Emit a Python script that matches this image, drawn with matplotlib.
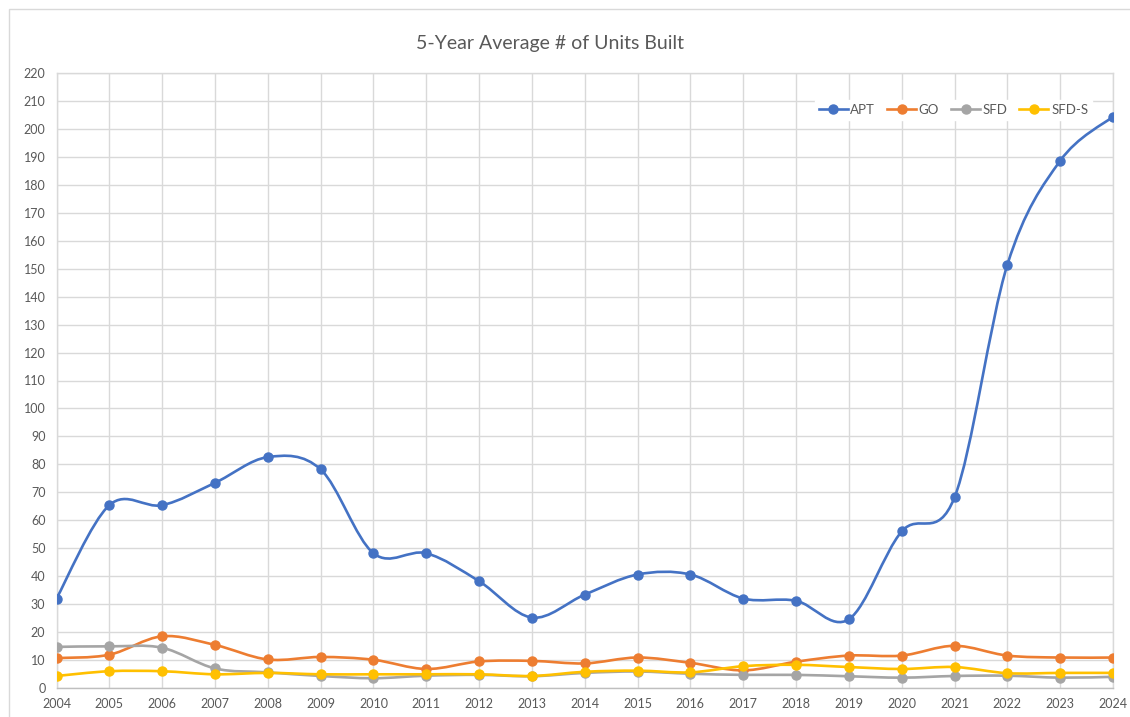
import matplotlib
matplotlib.use("Agg")
import matplotlib.pyplot as plt
from matplotlib.path import Path
from matplotlib.patches import PathPatch, Rectangle
from matplotlib.lines import Line2D
import numpy as np

# chart data
years = list(range(2004, 2025))
apt = [32.0, 65.4, 65.4, 73.4, 82.6, 78.2, 48.2, 48.2, 38.2, 25.2, 33.4,
       40.6, 40.6, 32.0, 31.2, 24.6, 56.0, 68.2, 151.4, 188.6, 204.4]
go = [10.7, 11.9, 18.5, 15.4, 10.2, 11.1, 10.1, 6.8, 9.5, 9.7, 8.8,
      10.9, 9.0, 6.3, 9.4, 11.6, 11.6, 15.1, 11.6, 10.9, 10.9]
sfd = [14.7, 14.9, 14.4, 7.0, 5.6, 4.3, 3.5, 4.4, 4.7, 4.2, 5.4,
       5.9, 5.1, 4.7, 4.7, 4.2, 3.7, 4.3, 4.4, 3.7, 4.0]
sfd_s = [4.3, 6.0, 6.0, 4.9, 5.4, 4.9, 4.9, 4.9, 4.9, 4.3, 5.8,
         6.2, 5.6, 7.8, 8.3, 7.5, 6.8, 7.5, 5.3, 5.4, 5.4]

series = [("APT", apt, "#4472C4"),
          ("GO", go, "#ED7D31"),
          ("SFD", sfd, "#A5A5A5"),
          ("SFD-S", sfd_s, "#FFC000")]

TEXT = "#595959"
GRID = "#D9D9D9"
FONT = "Lato"


def smooth_path(x, y):
    # Excel-like smoothed line: cubic bezier between points (Catmull-Rom style)
    pts = np.column_stack([x, y]).astype(float)
    n = len(pts)
    verts = [pts[0]]
    codes = [Path.MOVETO]
    for i in range(n - 1):
        p0 = pts[i - 1] if i > 0 else pts[i]
        p1 = pts[i]
        p2 = pts[i + 1]
        p3 = pts[i + 2] if i + 2 < n else pts[i + 1]
        c1 = p1 + (p2 - p0) / 6.0
        c2 = p2 - (p3 - p1) / 6.0
        verts += [c1, c2, p2]
        codes += [Path.CURVE4] * 3
    return Path(verts, codes)


W, H = 1130, 717
fig = plt.figure(figsize=(W / 100, H / 100), dpi=100)
fig.patch.set_facecolor("white")

# chart border (cropped on the right/bottom like the reference)
fig.patches.append(Rectangle((9 / W, -0.05), 1.2, 1 - 9 / H + 0.05,
                             transform=fig.transFigure, fill=False,
                             edgecolor=GRID, linewidth=1.0))

ax = fig.add_axes([56.5 / W, 1 - 688 / H, (1113 - 56.5) / W, (688 - 73) / H])

for i, (name, vals, col) in enumerate(series):
    patch = PathPatch(smooth_path(years, vals), facecolor="none", edgecolor=col,
                      linewidth=1.9, capstyle="round", joinstyle="round",
                      zorder=3 + i)
    ax.add_patch(patch)
    ax.plot(years, vals, linestyle="none", marker="o", markersize=6.5,
            color=col, zorder=3 + i)

ax.set_xlim(2004, 2024)
ax.set_ylim(0, 220)
ax.set_xticks(years)
ax.set_yticks(range(0, 221, 10))
ax.grid(True, color=GRID, linewidth=1.0, zorder=0)
ax.set_axisbelow(True)
for side in ["top", "right", "left"]:
    ax.spines[side].set_color(GRID)
    ax.spines[side].set_linewidth(1.0)
ax.spines["bottom"].set_color("#BFBFBF")
ax.spines["bottom"].set_linewidth(1.0)
ax.tick_params(length=0, labelcolor=TEXT, labelsize=9)
ax.tick_params(axis="y", pad=8)
ax.tick_params(axis="x", pad=7)
for lab in ax.get_xticklabels() + ax.get_yticklabels():
    lab.set_fontfamily(FONT)

fig.text(0.487, 1 - 44 / H, "5-Year Average # of Units Built", ha="center",
         va="center", color=TEXT, fontsize=14, fontfamily=FONT)

handles = [Line2D([], [], color=col, linewidth=1.9, marker="o", markersize=6.5)
           for _, _, col in series]
leg = ax.legend(handles, [s[0] for s in series], ncol=4, loc="center",
                bbox_to_anchor=(0.849, 0.94), frameon=True, fancybox=False,
                framealpha=1.0, edgecolor="white", handlelength=2.2,
                handletextpad=0.2, columnspacing=0.9, numpoints=1,
                borderpad=0.3, prop={"family": FONT, "size": 9.5})
for t in leg.get_texts():
    t.set_color(TEXT)
leg.set_zorder(2.5)

fig.savefig("out.png", dpi=100, facecolor="white")
